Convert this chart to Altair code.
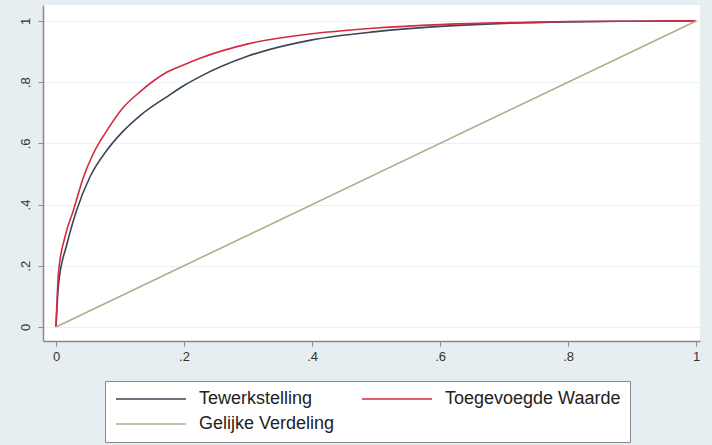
import altair as alt
import pandas as pd

# Lorenz curves
x_tew = [0, 0.004, 0.017, 0.032, 0.053, 0.079, 0.105, 0.131, 0.173, 0.2, 0.225, 0.3, 0.4, 0.5, 0.6, 0.7, 0.8, 0.9, 1.0]
y_tew = [0, 0.14, 0.27, 0.38, 0.49, 0.576, 0.64, 0.69, 0.752, 0.789, 0.818, 0.885, 0.938, 0.965, 0.982, 0.992, 0.997, 0.999, 1.0]

x_toe = [0, 0.004, 0.014, 0.027, 0.043, 0.058, 0.079, 0.105, 0.131, 0.173, 0.2, 0.225, 0.3, 0.4, 0.5, 0.6, 0.7, 0.8, 0.9, 1.0]
y_toe = [0, 0.18, 0.294, 0.38, 0.49, 0.565, 0.64, 0.717, 0.768, 0.832, 0.857, 0.878, 0.925, 0.958, 0.977, 0.988, 0.994, 0.998, 0.999, 1.0]

x_gel = [0, 1]
y_gel = [0, 1]

series = ["Tewerkstelling", "Toegevoegde Waarde", "Gelijke Verdeling"]
colors = ["#3a4656", "#d42a3f", "#b2ab8c"]

x_ticks = [0, 0.2, 0.4, 0.6, 0.8, 1]
y_ticks = [0, 0.2, 0.4, 0.6, 0.8, 1]

rows = []
for name, xs, ys in [(series[0], x_tew, y_tew), (series[1], x_toe, y_toe), (series[2], x_gel, y_gel)]:
    for i, (a, b) in enumerate(zip(xs, ys)):
        rows.append({"serie": name, "x": a, "y": b, "i": i})
df = pd.DataFrame(rows)

label_expr = "datum.value == 0 ? '0' : datum.value == 1 ? '1' : '.' + round(datum.value * 10)"

chart = alt.Chart(df).mark_line(strokeWidth=1.6, clip=True, interpolate="monotone").encode(
    x=alt.X("x:Q", scale=alt.Scale(domain=[-0.0203, 1.006], nice=False, zero=False),
            axis=alt.Axis(values=x_ticks, labelExpr=label_expr, title=None, grid=False,
                          domainColor="#8a8a8a", domainWidth=1.5, tickColor="#8a8a8a",
                          tickSize=5, labelFontSize=13, labelColor="#333", labelPadding=4,
                          labelFont="Liberation Sans")),
    y=alt.Y("y:Q", scale=alt.Scale(domain=[-0.046, 1.052], nice=False, zero=False),
            axis=alt.Axis(values=y_ticks, labelExpr=label_expr, title=None, grid=True,
                          gridColor="#e9f1f3", gridWidth=1.2,
                          domainColor="#8a8a8a", domainWidth=1.5, tickColor="#8a8a8a",
                          tickSize=5, labelFontSize=13, labelColor="#333", labelPadding=6,
                          labelAngle=270, labelAlign="center", labelBaseline="bottom",
                          labelFont="Liberation Sans")),
    color=alt.Color("serie:N", sort=series,
                    scale=alt.Scale(domain=series, range=colors),
                    legend=alt.Legend(orient="none", legendX=62, legendY=376,
                                      direction="horizontal", columns=2,
                                      symbolType="M-1,0H9", symbolSize=196,
                                      symbolStrokeWidth=1.6, labelFontSize=18,
                                      labelFont="Liberation Sans", labelColor="#222",
                                      labelOffset=67, labelLimit=300,
                                      columnPadding=23, rowPadding=7,
                                      padding=9, strokeColor="#8a8a8a",
                                      fillColor="white", title=None)),
    order="i:Q",
).properties(
    width=657, height=336,
    autosize=alt.AutoSizeParams(type="none"),
    padding={"left": 43, "top": 5, "right": 12, "bottom": 104},
    background="#e6eef1",
).configure_view(fill="white", stroke=None)

chart.save("out.html", embed_options={"renderer": "svg", "actions": False})
